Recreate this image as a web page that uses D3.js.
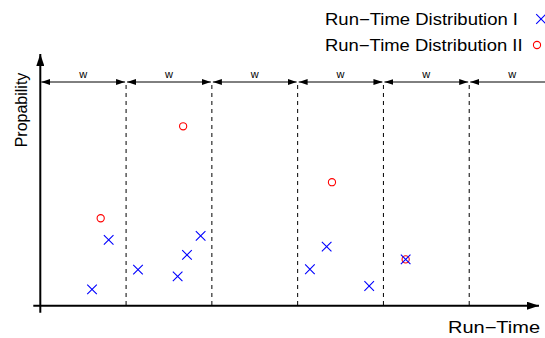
<!DOCTYPE html>
<html><head><meta charset="utf-8">
<script src="https://cdn.jsdelivr.net/npm/d3@7"></script>
<style>body{margin:0;background:#fff}svg{display:block}text{font-family:"Liberation Sans",Arial,sans-serif}</style>
</head><body><svg id="c" width="545" height="338"></svg>
<script>
const binEdges = [0, 1, 2, 3, 4, 5, 6];
const binLabels = ["w", "w", "w", "w", "w", "w"];
const seriesNames = ["Run\u2212Time Distribution I", "Run\u2212Time Distribution II"];
const dist1X = [0.603, 0.797, 1.139, 1.601, 1.710, 1.869, 3.143, 3.338, 3.834, 4.259];
const dist1Y = [0.073, 0.294, 0.161, 0.131, 0.227, 0.312, 0.163, 0.264, 0.088, 0.207];
const dist2X = [0.704, 1.665, 3.400, 4.259];
const dist2Y = [0.391, 0.802, 0.552, 0.207];
const xLabel = "Run\u2212Time";
const yLabel = "Propability";

const svg = d3.select("#c");
const x = d3.scaleLinear().domain([0, 6]).range([40.3, 555]);
const y = d3.scaleLinear().domain([0, 1]).range([305.7, 82]);

const defs = svg.append("defs");
function marker(id, len, hw) {
  defs.append("marker").attr("id", id).attr("viewBox", `0 ${-hw} ${len} ${2*hw}`)
    .attr("refX", len).attr("refY", 0).attr("markerWidth", len).attr("markerHeight", 2*hw)
    .attr("markerUnits", "userSpaceOnUse").attr("orient", "auto-start-reverse")
    .append("path").attr("d", `M0,${-hw}L${len},0L0,${hw}Z`).attr("fill", "#000");
}
marker("axArr", 12, 4);
marker("wArr", 9, 3);

// dashed bin boundaries
svg.append("g").selectAll("line").data(binEdges.slice(1, -1)).join("line")
  .attr("x1", d => x(d)).attr("x2", d => x(d))
  .attr("y1", y(1) + 3).attr("y2", y(0))
  .attr("stroke", "#000").attr("stroke-width", 1).attr("stroke-dasharray", "4,4");

// width arrows
const pairs = d3.pairs(binEdges);
svg.append("g").selectAll("line").data(pairs).join("line")
  .attr("x1", d => x(d[0]) + 1).attr("x2", d => x(d[1]) - 1)
  .attr("y1", y(1)).attr("y2", y(1))
  .attr("stroke", "#000").attr("stroke-width", 1)
  .attr("marker-start", "url(#wArr)").attr("marker-end", "url(#wArr)");
svg.append("g").selectAll("text").data(pairs).join("text")
  .attr("x", d => x((d[0] + d[1]) / 2)).attr("y", y(1) - 4)
  .attr("text-anchor", "middle").attr("font-size", 11).text((d, i) => binLabels[i]);

// axes
svg.append("line").attr("x1", x(0)).attr("x2", x(0)).attr("y1", y(0) + 7).attr("y2", 54)
  .attr("stroke", "#000").attr("stroke-width", 2).attr("marker-end", "url(#axArr)");
svg.append("line").attr("x1", x(0) - 7).attr("x2", 539).attr("y1", y(0)).attr("y2", y(0))
  .attr("stroke", "#000").attr("stroke-width", 2).attr("marker-end", "url(#axArr)");

svg.append("text").attr("x", 448).attr("y", 333)
  .attr("font-size", 16.3).attr("textLength", 92).attr("lengthAdjust", "spacingAndGlyphs").text(xLabel);
svg.append("text").attr("transform", "translate(27,110) rotate(-90)").attr("text-anchor", "middle")
  .attr("font-size", 16).text(yLabel);

// series
const pts1 = dist1X.map((v, i) => [v, dist1Y[i]]);
const pts2 = dist2X.map((v, i) => [v, dist2Y[i]]);
svg.append("g").selectAll("circle").data(pts2).join("circle")
  .attr("cx", d => x(d[0])).attr("cy", d => y(d[1])).attr("r", 3.6)
  .attr("fill", "none").attr("stroke", "#ff0000").attr("stroke-width", 1.1);
const s = 4.8;
svg.append("g").selectAll("path").data(pts1).join("path")
  .attr("d", d => { const cx = x(d[0]), cy = y(d[1]); return `M${cx-s},${cy-s}L${cx+s},${cy+s}M${cx-s},${cy+s}L${cx+s},${cy-s}`; })
  .attr("stroke", "#0000ff").attr("stroke-width", 1.1).attr("fill", "none");

// legend
const lg = svg.append("g");
lg.append("text").attr("x", 325).attr("y", 25).attr("font-size", 16.3)
  .attr("textLength", 193).attr("lengthAdjust", "spacingAndGlyphs").text(seriesNames[0]);
lg.append("text").attr("x", 325).attr("y", 51).attr("font-size", 16.3)
  .attr("textLength", 197.5).attr("lengthAdjust", "spacingAndGlyphs").text(seriesNames[1]);
lg.append("path").attr("d", `M${541-s},${19-s}L${541+s},${19+s}M${541-s},${19+s}L${541+s},${19-s}`)
  .attr("stroke", "#0000ff").attr("stroke-width", 1.1);
lg.append("circle").attr("cx", 537).attr("cy", 45).attr("r", 3.6).attr("fill", "none")
  .attr("stroke", "#ff0000").attr("stroke-width", 1.1);
</script></body></html>
